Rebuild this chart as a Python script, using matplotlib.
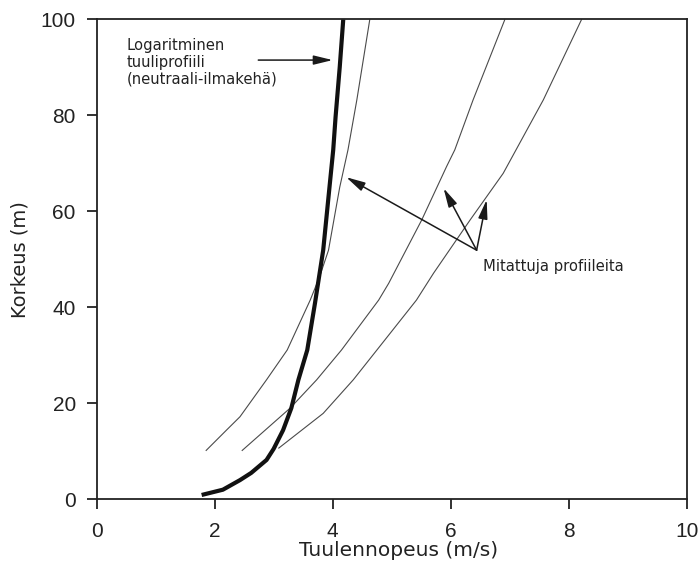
import numpy as np
import matplotlib
matplotlib.use('Agg')
import matplotlib.pyplot as plt

# Logarithmic wind profile (neutral atmosphere), speed in m/s vs height in m
log_speed = [1.78, 2.14, 2.43, 2.62, 2.88, 3.00, 3.16, 3.30, 3.42, 3.57, 3.70, 3.84, 3.93, 4.01, 4.05, 4.12, 4.18]
log_height = [0.9, 2, 4.0, 5.5, 8.2, 10.5, 14.4, 19, 24.9, 31.1, 40.8, 51.9, 63, 72.8, 79.7, 90, 100]

# Measured profiles
meas1_speed = [1.85, 2.20, 2.43, 2.88, 3.23, 3.62, 3.78, 3.93, 4.12, 4.26, 4.41, 4.63]
meas1_height = [10.1, 14.4, 17.2, 24.9, 31.1, 41.5, 46.4, 51.9, 65, 72.8, 83.2, 100]

meas2_speed = [2.46, 3.28, 3.73, 4.15, 4.78, 4.95, 5.51, 5.93, 6.07, 6.38, 6.92]
meas2_height = [10.1, 19, 24.9, 31.1, 41.5, 45, 58.2, 69.3, 72.8, 83.2, 100]

meas3_speed = [3.08, 3.84, 4.35, 4.75, 5.42, 5.71, 6.33, 6.89, 7.57, 8.22]
meas3_height = [10.6, 17.9, 24.9, 31.1, 41.5, 47.1, 58.2, 67.9, 83.2, 100]

x_ticks = [0, 2, 4, 6, 8, 10]
y_ticks = [0, 20, 40, 60, 80, 100]

log_label = 'Logaritminen\ntuuliprofiili\n(neutraali-ilmakehä)'
meas_label = 'Mitattuja profiileita'

fig = plt.figure(figsize=(7, 5.67), dpi=100)
ax = fig.add_axes([0.138, 0.1194, 0.843, 0.8466])

# measured profiles: thin grey lines
for xs, ys in [(meas1_speed, meas1_height), (meas2_speed, meas2_height), (meas3_speed, meas3_height)]:
    ax.plot(xs, ys, color='#4a4a4a', lw=0.8, solid_capstyle='butt')

# log profile: thick black line
ax.plot(log_speed, log_height, color='#111111', lw=3.0, solid_capstyle='butt')

ax.set_xlim(0, 10)
ax.set_ylim(0, 100)
ax.set_xticks(x_ticks)
ax.set_yticks(y_ticks)
ax.set_xticklabels([str(t) for t in x_ticks], fontfamily='Liberation Sans', fontsize=15, color='#222222')
ax.set_yticklabels([str(t) for t in y_ticks], fontfamily='Liberation Sans', fontsize=15, color='#222222')
ax.tick_params(direction='out', length=7, width=1.3, color='#222222', pad=8)
ax.tick_params(axis='x', pad=9)

for side in ['left', 'right', 'top', 'bottom']:
    ax.spines[side].set_linewidth(1.3)
    ax.spines[side].set_color('#222222')

ax.set_xlabel('Tuulennopeus (m/s)', fontfamily='DejaVu Sans', fontsize=14.5, color='#222222')
ax.xaxis.set_label_coords(0.512, -0.086)
ax.set_ylabel('Korkeus (m)', fontfamily='DejaVu Sans', fontsize=14, color='#222222', labelpad=8)

# annotations
arrow_kw = dict(arrowstyle='-|>,head_length=1.15,head_width=0.28', mutation_scale=10,
                color='#1a1a1a', lw=1.1, shrinkA=0, shrinkB=0)

ax.text(0.51, 96.0, log_label, fontfamily='DejaVu Sans', fontsize=10.6, color='#222222',
        va='top', ha='left', linespacing=1.12)
ax.annotate('', xy=(4.0, 91.5), xytext=(2.74, 91.5), arrowprops=arrow_kw)

ax.text(6.55, 48.5, meas_label, fontfamily='DejaVu Sans', fontsize=10.6, color='#222222',
        va='center', ha='left')
for tip in [(4.23, 67.1), (5.88, 64.8), (6.61, 62.4)]:
    ax.annotate('', xy=tip, xytext=(6.44, 51.9), arrowprops=arrow_kw)

fig.savefig('out.png', dpi=100)
